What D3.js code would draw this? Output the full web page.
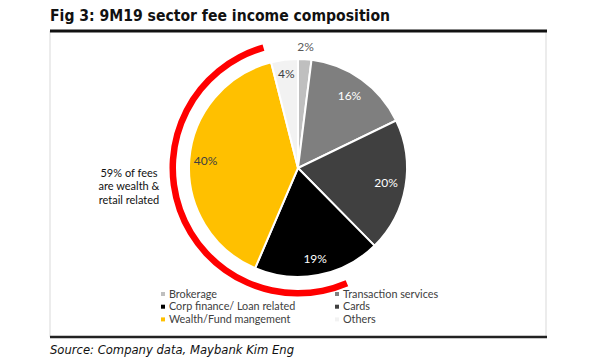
<!DOCTYPE html>
<html><head><meta charset="utf-8">
<script src="https://cdn.jsdelivr.net/npm/d3@7"></script>
<style>body{margin:0;background:#fff}svg{display:block}</style>
</head><body>
<svg id="c" width="600" height="360"></svg>
<script>
const categories = ["Brokerage","Transaction services","Cards","Corp finance/ Loan related","Wealth/Fund mangement","Others"];
const values = [2,16,20,19,40,4];
const labels = ["2%","16%","20%","19%","40%","4%"];
const colors = ["#bfbfbf","#7f7f7f","#404040","#000000","#ffc000","#f2f2f2"];
const labelColors = ["#595959","#ffffff","#ffffff","#ffffff","#404040","#404040"];
const legendOrder = ["Brokerage","Transaction services","Corp finance/ Loan related","Cards","Wealth/Fund mangement","Others"];

const svg = d3.select("#c");
const cx = 298, cy = 168, R = 109;

// frame
svg.append("line").attr("x1",50).attr("x2",50).attr("y1",31).attr("y2",337).attr("stroke","#e6e6e6").attr("stroke-width",1.5);
svg.append("line").attr("x1",546).attr("x2",546).attr("y1",31).attr("y2",337).attr("stroke","#e6e6e6").attr("stroke-width",1.5);
svg.append("line").attr("x1",50).attr("x2",547).attr("y1",31).attr("y2",31).attr("stroke","#111").attr("stroke-width",3);
svg.append("line").attr("x1",50).attr("x2",547).attr("y1",337).attr("y2",337).attr("stroke","#222").attr("stroke-width",2.5);

svg.append("text").attr("x",50).attr("y",21).attr("font-family","DejaVu Sans Condensed, DejaVu Sans").attr("font-weight","bold")
  .attr("font-size",16).attr("fill","#111").attr("textLength",340).attr("lengthAdjust","spacingAndGlyphs")
  .text("Fig 3: 9M19 sector fee income composition");
svg.append("text").attr("x",50).attr("y",354).attr("font-family","DejaVu Sans Condensed, DejaVu Sans").attr("font-style","italic")
  .attr("font-size",13).attr("fill","#111").attr("textLength",244).attr("lengthAdjust","spacingAndGlyphs")
  .text("Source: Company data, Maybank Kim Eng");

const pie = d3.pie().sort(null).value(d=>d)(values);
const arc = d3.arc().innerRadius(0).outerRadius(R);
const g = svg.append("g").attr("transform",`translate(${cx},${cy})`);
g.selectAll("path.s").data(pie).join("path").attr("class","s").attr("d",arc)
  .attr("fill",(d,i)=>colors[i]).attr("stroke","#fff").attr("stroke-width",2);

// red annotation arc
const redArc = d3.arc().innerRadius(122).outerRadius(128.5).startAngle(157*Math.PI/180).endAngle(344*Math.PI/180);
g.append("path").attr("d",redArc()).attr("fill","#ff0000");

// label positions via slice mid-angles with per-slice radius factors
const lr = [1.11,0.81,0.82,0.85,0.85,0.87];
pie.forEach((d,i)=>{
  const a = (d.startAngle+d.endAngle)/2;
  const r = R*lr[i];
  const x = Math.sin(a)*r, y = -Math.cos(a)*r;
  g.append("text").attr("x",x).attr("y",y).attr("dy","0.35em").attr("text-anchor","middle")
    .attr("font-family","Lato, Open Sans, sans-serif").attr("font-size",12).attr("fill",labelColors[i]).text(labels[i]);
});

// annotation text
const ann = ["59% of fees","are wealth &","retail related"];
svg.append("g").selectAll("text").data(ann).join("text")
  .attr("x",129).attr("y",(d,i)=>173+i*13.5).attr("dy","0.35em").attr("text-anchor","middle")
  .attr("font-family","Lato, Open Sans, sans-serif").attr("font-size",11).attr("fill","#111").text(d=>d);

// legend
const lg = svg.append("g");
legendOrder.forEach((name,k)=>{
  const i = categories.indexOf(name);
  const col = k%2, row = Math.floor(k/2);
  const x = col===0 ? 163 : 337, y = 294 + row*12.7;
  lg.append("rect").attr("x",x-2).attr("y",y-2).attr("width",4).attr("height",4).attr("fill",colors[i]);
  lg.append("text").attr("x",x+6).attr("y",y).attr("dy","0.35em").attr("font-family","Lato, Open Sans, sans-serif")
    .attr("font-size",10.8).attr("fill","#404040").text(name);
});
</script>
</body></html>
